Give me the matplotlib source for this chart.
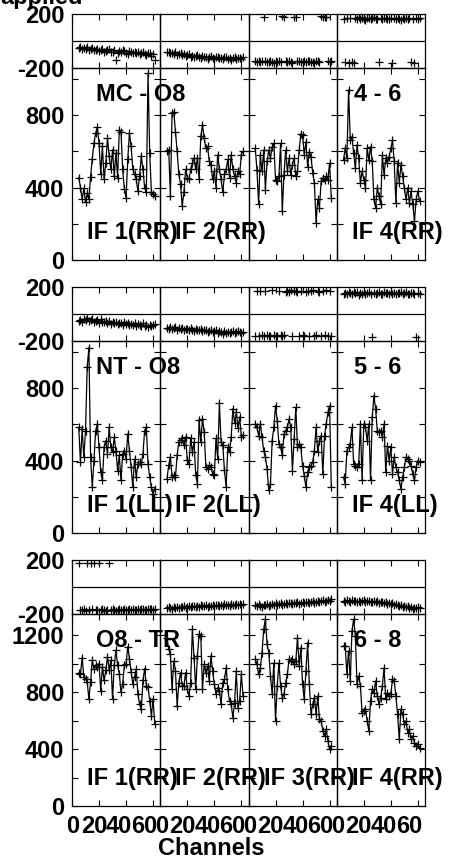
import numpy as np
import matplotlib
matplotlib.use('Agg')
import matplotlib.pyplot as plt
from matplotlib.ticker import MultipleLocator

plt.rcParams['font.family'] = ['Liberation Sans', 'DejaVu Sans']
plt.rcParams['font.weight'] = 'bold'

# ---------------- data ----------------
CHANNELS = np.arange(5.0, 62.0, 1.25)          # 46 channels per IF

BASELINES = ['MC - O8', 'NT - O8', 'O8 - TR']
ANTPAIRS = ['4 - 6', '5 - 6', '6 - 8']
IF_LABELS = [['IF 1(RR)', 'IF 2(RR)', '', 'IF 4(RR)'],
             ['IF 1(LL)', 'IF 2(LL)', '', 'IF 4(LL)'],
             ['IF 1(RR)', 'IF 2(RR)', 'IF 3(RR)', 'IF 4(RR)']]
AMP_TOP = [1060, 1060, 1350]
AMP_LABELS = [[0, 400, 800], [0, 400, 800], [0, 400, 800, 1200]]
PHASE_LABELS = [-200, 200]
CHAN_TICKS = [0, 20, 40, 60]

amp_r1c1 = [455,400,336,395,318,369,336,460,560,645,700,733,645,473,627,445,536,673,573,500,609,464,590,455,718,709,500,391,345,555,700,627,500,473,445,382,464,573,500,400,373,1030,590,373,364,355]
amp_r1c2 = [600,609,355,809,818,709,600,473,418,300,373,500,455,445,500,536,564,500,564,445,682,745,673,618,627,545,527,445,491,400,582,500,445,373,473,500,555,455,582,500,464,427,491,473,582,600]
amp_r1c3 = [616,498,307,580,489,607,389,544,607,562,625,644,444,435,462,644,271,471,607,489,562,471,525,562,462,489,607,698,689,580,653,516,598,571,480,425,207,335,289,435,453,444,462,444,535,344]
amp_r1c4 = [553,616,562,940,662,680,589,507,634,562,425,489,444,398,616,553,625,544,335,289,398,353,307,580,471,562,535,571,616,662,544,316,535,425,525,462,398,335,398,316,380,307,216,335,380,325]

amp_r2c1 = [583,391,574,418,565,917,1024,418,253,400,565,602,473,336,290,473,510,437,583,473,446,528,455,345,428,290,437,455,409,547,455,363,253,409,308,382,391,382,437,565,583,382,308,253,216,244]
amp_r2c2 = [300,374,420,310,319,310,429,503,512,522,485,531,402,383,522,448,503,319,273,623,503,632,558,365,356,374,365,328,319,522,411,715,503,485,346,254,475,448,531,687,605,669,577,641,531,540]
amp_r2c3 = [602,583,538,602,528,455,418,354,235,272,510,583,703,620,492,473,428,547,565,583,629,583,345,519,694,473,492,473,372,317,253,336,363,372,391,455,583,446,510,538,327,538,602,666,703,253]
amp_r2c4 = [308,272,455,473,492,583,382,372,363,382,602,290,602,583,510,602,290,639,758,684,565,556,565,528,602,336,483,400,473,327,418,363,336,290,244,308,363,418,409,400,372,327,290,363,400,391]

amp_r3c1 = [935,930,1044,906,895,871,753,871,1025,966,989,978,1001,812,978,883,954,1049,954,1025,753,989,1096,989,930,800,859,989,1001,1120,1037,942,859,906,966,788,717,682,883,966,847,836,741,634,753,575]
amp_r3c2 = [1184,1102,1067,821,1020,950,703,868,938,844,844,938,821,774,868,1243,1044,821,1055,1208,1196,821,997,938,985,879,1055,950,856,786,832,809,715,868,891,973,821,739,715,621,727,950,692,739,926,774]
amp_r3c3 = [1032,997,926,973,1079,1243,1313,1137,1079,915,786,1008,598,844,1008,844,762,786,868,926,1032,1020,1032,997,1020,1184,985,1114,856,750,950,1149,856,645,715,762,645,774,610,598,528,492,539,457,399,422]
amp_r3c4 = [1126,1126,926,1090,879,1231,1313,1196,856,915,844,657,668,680,598,528,739,821,797,879,774,715,762,844,973,750,797,774,786,891,879,774,645,469,680,645,575,598,516,539,469,492,446,422,434,410]

ph_r1c1 = [-55,-48,-62,-50,-58,-45,-66,-60,-52,-70,-64,-58,-75,-68,-62,-80,-72,-66,-60,-78,-85,-70,-140,-90,-74,-82,-68,-76,-88,-95,-72,-80,-86,-78,-92,-84,-98,-88,-80,-94,-102,-90,-86,-110,-96,-140]
ph_r1c2 = [-85,-78,-92,-88,-96,-80,-100,-94,-90,-105,-98,-110,-102,-96,-115,-108,-120,-112,-104,-118,-126,-110,-115,-122,-130,-118,-112,-125,-132,-120,-116,-128,-124,-135,-122,-118,-130,-126,-138,-128,-120,-132,-126,-124,-130,-122]
ph_r1c3 = [-148,-152,-145,-156,-150,178,-146,-158,-152,-149,-155,-160,-147,-153,-150,-158,182,176,-150,-155,-145,-152,-160,175,180,-150,-147,-156,-152,-148,-158,-150,-145,-155,-152,-160,-150,-148,-155,182,178,180,176,-150,-158,-145]
ph_r1c4 = [165,-158,170,-160,172,-155,-162,168,160,175,166,170,162,158,172,168,164,170,175,160,166,-158,170,164,172,168,160,166,174,-160,168,162,170,166,158,172,164,168,160,170,-156,166,-162,170,164,168]

ph_r2c1 = [-50,-42,-58,-35,-48,-30,-55,-44,-38,-60,-52,-46,-65,-40,-58,-62,-50,-68,-55,-72,-60,-66,-58,-75,-64,-70,-80,-62,-74,-68,-85,-72,-78,-66,-88,-76,-82,-92,-70,-86,-80,-95,-78,-88,-84,-75]
ph_r2c2 = [-100,-108,-95,-112,-104,-98,-115,-106,-110,-102,-118,-108,-112,-120,-105,-115,-125,-110,-118,-122,-114,-128,-120,-116,-130,-124,-118,-135,-126,-122,-140,-128,-132,-145,-126,-138,-130,-142,-134,-128,-140,-136,-125,-132,-138,-130]
ph_r2c3 = [-160,170,-165,168,-158,-162,172,-155,-165,-160,175,-158,-166,-160,168,-155,-162,-158,165,170,162,175,-165,168,172,160,-160,170,-158,-165,166,174,-162,168,176,-160,-155,170,164,-162,172,-158,178,-165,170,-160]
ph_r2c4 = [150,158,145,162,155,148,160,152,165,142,156,150,160,146,154,162,150,-172,158,148,155,164,150,145,160,152,158,148,162,150,155,145,158,152,160,148,155,162,150,146,158,152,150,-168,156,150]

ph_r3c1 = [178,-168,-172,-165,-175,176,-170,178,-166,175,-172,-168,177,-174,-165,-170,-176,-168,176,-172,-166,-170,-175,-168,-164,-172,-170,-166,-174,-168,-162,-170,-165,-172,-168,-164,-170,-166,-160,-168,-172,-164,-166,-160,-168,-162]
ph_r3c2 = [-158,-150,-155,-162,-148,-152,-145,-156,-150,-148,-142,-152,-146,-140,-150,-144,-138,-148,-142,-146,-136,-144,-140,-134,-145,-138,-142,-132,-140,-136,-130,-142,-134,-138,-128,-136,-130,-140,-126,-134,-130,-124,-136,-128,-132,-126]
ph_r3c3 = [-135,-142,-128,-138,-145,-130,-136,-125,-140,-132,-128,-135,-122,-130,-126,-120,-132,-124,-118,-128,-122,-115,-126,-118,-120,-112,-124,-116,-110,-120,-114,-108,-118,-110,-104,-115,-108,-100,-112,-104,-98,-108,-100,-94,-102,-90]
ph_r3c4 = [-100,-108,-96,-104,-110,-98,-106,-102,-112,-100,-108,-104,-96,-110,-106,-100,-114,-108,-104,-112,-106,-118,-110,-114,-120,-112,-124,-118,-128,-122,-130,-126,-134,-140,-130,-145,-138,-150,-142,-155,-148,-160,-152,-158,-150,-155]

AMPS = [[amp_r1c1, amp_r1c2, amp_r1c3, amp_r1c4],
        [amp_r2c1, amp_r2c2, amp_r2c3, amp_r2c4],
        [amp_r3c1, amp_r3c2, amp_r3c3, amp_r3c4]]
PHASES = [[ph_r1c1, ph_r1c2, ph_r1c3, ph_r1c4],
          [ph_r2c1, ph_r2c2, ph_r2c3, ph_r2c4],
          [ph_r3c1, ph_r3c2, ph_r3c3, ph_r3c4]]

# ---------------- layout ----------------
W, H = 459, 860
fig = plt.figure(figsize=(W / 100, H / 100), dpi=100)

X0, CW = 72.0, 88.25
ROWS = [(14, 68, 260), (287, 341, 533), (560, 614, 806)]
FS = 17
XMAX = 65.3
LABEL_SHIFT = {0: 1.0, 20: -5.0, 40: -7.0, 60: -9.0}   # pixels


def ax_at(x, y, w, h):
    return fig.add_axes([x / W, 1 - (y + h) / H, w / W, h / H])


def style_spines(ax):
    for s in ax.spines.values():
        s.set_linewidth(0.9)
        s.set_color('black')
    ax.patch.set_alpha(0)


for r, (ytop, ymid, ybot) in enumerate(ROWS):
    for c in range(4):
        xl = X0 + c * CW
        # ---- phase panel ----
        axp = ax_at(xl, ytop, CW, ymid - ytop)
        style_spines(axp)
        axp.set_xlim(0, XMAX)
        axp.set_ylim(-200, 200)
        axp.axhline(0, color='black', lw=0.9)
        axp.plot(CHANNELS, PHASES[r][c], ls='none', marker='+', ms=5.5,
                 mew=0.9, color='black')
        axp.set_xticks(CHAN_TICKS)
        axp.tick_params(axis='x', direction='in', top=True, bottom=True,
                        length=4, width=0.8, labelbottom=False)
        if c == 0:
            axp.set_yticks(PHASE_LABELS)
            axp.set_yticklabels([str(v) for v in PHASE_LABELS])
            axp.tick_params(axis='y', length=0, pad=5.5, labelsize=FS)
        else:
            axp.set_yticks([])

        # ---- amplitude panel ----
        axa = ax_at(xl, ymid, CW, ybot - ymid)
        style_spines(axa)
        axa.set_xlim(0, XMAX)
        axa.set_ylim(0, AMP_TOP[r])
        axa.plot(CHANNELS, AMPS[r][c], '-', color='black', lw=0.9,
                 marker='+', ms=6, mew=0.9)
        axa.set_xticks(CHAN_TICKS)
        axa.tick_params(axis='x', direction='in', top=True, bottom=True,
                        length=4, width=0.8, labelbottom=False)
        axa.yaxis.set_major_locator(MultipleLocator(400))
        axa.yaxis.set_minor_locator(MultipleLocator(200))
        axa.tick_params(axis='y', which='both', direction='in', left=True,
                        right=True, length=4.5, width=0.8, labelsize=FS,
                        pad=5.5, labelleft=(c == 0))
        if c == 0:
            axa.set_yticks(AMP_LABELS[r])
            axa.set_yticklabels([str(v) for v in AMP_LABELS[r]])

        # panel texts
        if IF_LABELS[r][c]:
            axa.text(0.17, 0.11, IF_LABELS[r][c], transform=axa.transAxes,
                     fontsize=FS, fontweight='bold', ha='left',
                     va='baseline', clip_on=False, zorder=5)
        if c == 0:
            axa.text(0.27, 0.828, BASELINES[r], transform=axa.transAxes,
                     fontsize=FS, fontweight='bold', ha='left',
                     va='baseline', clip_on=False, zorder=5)
        if c == 3:
            axa.text(0.2, 0.828, ANTPAIRS[r], transform=axa.transAxes,
                     fontsize=FS, fontweight='bold', ha='left',
                     va='baseline', clip_on=False, zorder=5)

        # channel tick labels on the bottom row
        if r == 2:
            for t in CHAN_TICKS:
                axa.annotate(str(t), xy=(t, 0),
                             xycoords=('data', 'axes fraction'),
                             xytext=(LABEL_SHIFT[t] * 0.72, -9 * 0.72),
                             textcoords='offset points', ha='center',
                             va='top', fontsize=FS, fontweight='bold',
                             annotation_clip=False)

fig.text(211 / W, 1 - 855 / H, 'Channels', ha='center', va='baseline',
         fontsize=FS, fontweight='bold')
fig.text(0, 1 - 4 / H, 'applied', ha='left', va='baseline',
         fontsize=FS, fontweight='bold')

fig.savefig('out.png', dpi=100)
